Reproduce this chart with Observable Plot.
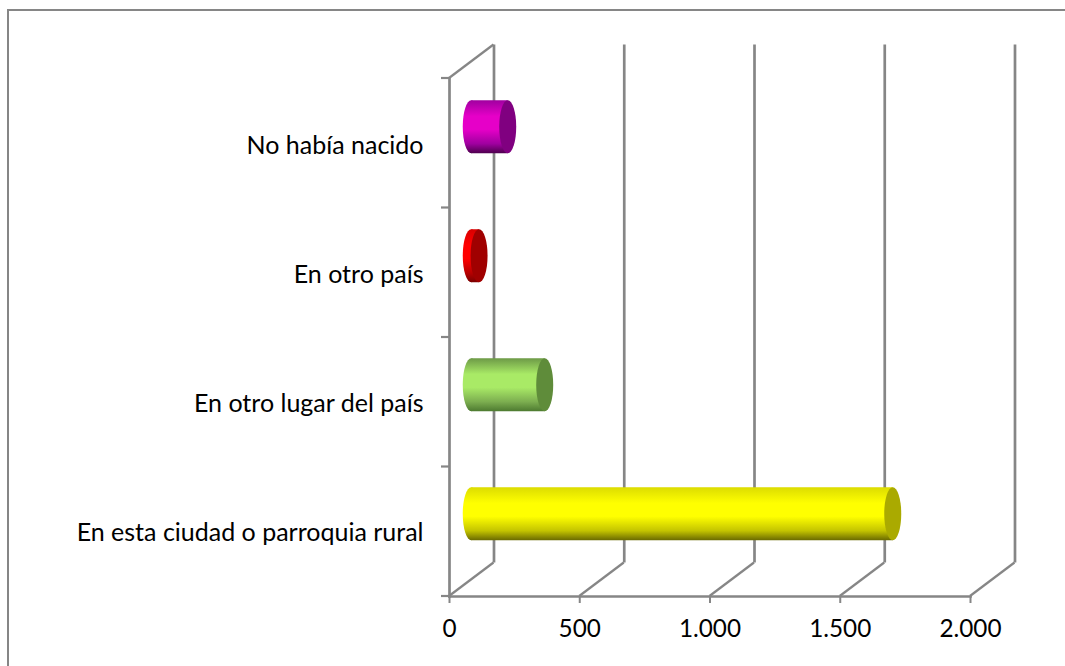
<!DOCTYPE html>
<html><head><meta charset="utf-8">
<script src="https://cdn.jsdelivr.net/npm/d3@7"></script>
<script src="https://cdn.jsdelivr.net/npm/@observablehq/plot@0.6"></script>
<style>
html,body{margin:0;padding:0;background:#fff;width:1065px;height:666px;overflow:hidden}
#wrap{position:relative;width:1065px;height:666px}
#edge{position:absolute;left:7px;top:9px;right:0;bottom:0;border-top:2px solid #868686;border-left:2px solid #868686}
#chart{position:absolute;left:0;top:0}
svg{background:transparent!important}
</style></head>
<body><div id="wrap"><div id="edge"></div><div id="chart"></div></div>
<script>
const categories = ["No había nacido", "En otro país", "En otro lugar del país", "En esta ciudad o parroquia rural"];
const values = [140, 30, 282, 1618];
const xTicks = [0, 500, 1000, 1500, 2000];

const bodyStops = [
  ["#a000a0", "#e600c8", "#a000a0", "#4e004e"],
  ["#d80000", "#ff0000", "#b80000", "#7a0000"],
  ["#6d9a47", "#a9ea66", "#7cae50", "#4d7a30"],
  ["#dcdc00", "#ffff00", "#c4c400", "#6a6a00"]
];
const capColors = ["#800080", "#a00000", "#5f8c3a", "#aaaa00"];

const GRID = "#868686";
const depthX = 44.5, depthY = 33.5;
const capRx = 8.5;

const rows = categories.map((c, i) => ({c, v: values[i], i}));
const fmt = d3.formatLocale({decimal: ",", thousands: ".", grouping: [3], currency: ["", ""]}).format(",d");

function defs() {
  const g = d3.create("svg:defs");
  bodyStops.forEach((s, i) => {
    const lg = g.append("linearGradient").attr("id", "cyl" + i)
      .attr("x1", 0).attr("x2", 0).attr("y1", 0).attr("y2", 1);
    [[0, s[0]], [.3, s[1]], [.55, s[1]], [.82, s[2]], [1, s[3]]].forEach(([o, col]) =>
      lg.append("stop").attr("offset", o).attr("stop-color", col));
  });
  return g.node();
}

function walls(index, scales, values_, dim) {
  const g = d3.create("svg:g").attr("stroke", GRID).attr("stroke-width", 2.2).attr("fill", "none");
  const bottom = dim.height - dim.marginBottom, top = dim.marginTop, left = dim.marginLeft;
  xTicks.forEach(t => {
    const x = scales.x(t);
    g.append("line").attr("x1", x).attr("y1", bottom).attr("x2", x + depthX).attr("y2", bottom - depthY);
  });
  g.append("line").attr("x1", left).attr("y1", top).attr("x2", left + depthX).attr("y2", top - depthY);
  const step = (bottom - top) / categories.length;
  d3.range(categories.length + 1).forEach(k => {
    g.append("line").attr("x1", left - 8).attr("x2", left)
      .attr("y1", top + k * step).attr("y2", top + k * step);
  });
  return g.node();
}

function bandOf(scales) {
  const b = scales.y.bandwidth;
  return typeof b === "function" ? b() : b;
}
function caps(kind) {
  return function (index, scales, v, dim) {
    const g = d3.create("svg:g");
    const bw = bandOf(scales);
    rows.forEach(r => {
      const cx = scales.x(kind === "back" ? 0 : r.v) + depthX / 2;
      g.append("ellipse").attr("cx", cx).attr("cy", scales.y(r.c) + bw / 2 - depthY / 2)
        .attr("rx", capRx).attr("ry", bw / 2)
        .attr("fill", kind === "back" ? `url(#cyl${r.i})` : capColors[r.i]);
    });
    return g.node();
  };
}

const plot = Plot.plot({
  width: 1065, height: 666,
  marginLeft: 449, marginRight: 95, marginTop: 78, marginBottom: 70,
  style: {fontFamily: "Lato, sans-serif", color: "#000", background: "transparent"},
  x: {domain: [0, 2000], label: null},
  y: {domain: categories, paddingInner: 0.59, paddingOuter: 0.295, label: null},
  marks: [
    defs,
    Plot.ruleX(xTicks, {x: d => d, dx: depthX, dy: -depthY, stroke: GRID, strokeWidth: 2.7}),
    walls,
    Plot.frame({anchor: "left", stroke: GRID, strokeWidth: 2.7}),
    Plot.frame({anchor: "bottom", stroke: GRID, strokeWidth: 2.7}),
    Plot.axisX(xTicks, {anchor: "bottom", tickSize: 7, tickPadding: 16, stroke: GRID, strokeWidth: 2, tickFormat: fmt, label: null, fontSize: 24.3}),
    Plot.axisY({anchor: "left", tickSize: 0, tickPadding: 26, label: null, lineWidth: 40, dy: 2, fontSize: 25}),
    caps("back"),
    Plot.barX(rows, {x1: () => 0, x2: "v", y: "c", dx: depthX / 2, dy: -depthY / 2, fill: d => `url(#cyl${d.i})`}),
    caps("front")
  ]
});
document.getElementById("chart").append(plot);
</script></body></html>
